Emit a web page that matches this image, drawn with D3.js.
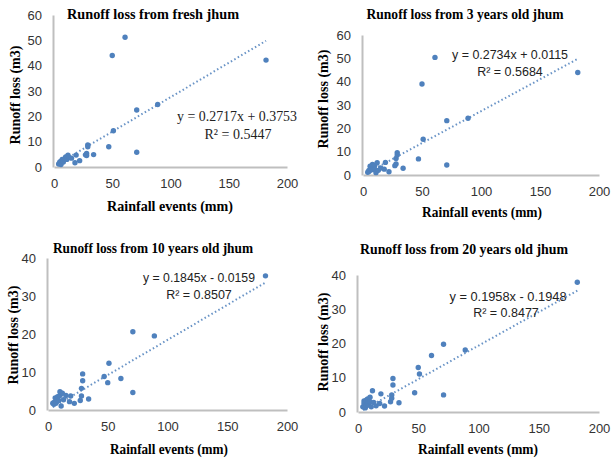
<!DOCTYPE html>
<html>
<head>
<meta charset="utf-8">
<script src="https://cdn.jsdelivr.net/npm/d3@7"></script>
<style>
  html, body { margin: 0; padding: 0; background: #fff; }
  svg { display: block; }
</style>
</head>
<body>
<svg id="chart" width="611" height="459"></svg>
<script>
// Rainfall events (mm), shared by all four plots
const rainfall = [4, 5, 5, 6, 6, 7, 7, 8, 8, 9, 10, 10, 11, 12, 13, 15, 18, 19, 22, 27, 28, 28, 29, 29, 34, 47, 50, 51, 61, 71, 71, 89, 182];

// Runoff loss (m3) for each event, per jhum age
const runoffFresh = [1.2, 1.5, 2.0, 2.2, 1.0, 3.0, 2.5, 2.8, 2.0, 3.2, 4.0, 3.5, 3.0, 4.7, 3.8, 3.5, 1.7, 4.7, 2.5, 4.8, 5.3, 4.5, 8.7, 8.0, 4.9, 8.0, 44.0, 14.3, 51.2, 22.5, 5.8, 24.7, 42.2];
const runoff3yr   = [1.2, 1.5, 2.0, 3.8, 2.0, 3.3, 2.5, 4.5, 2.3, 3.5, 4.2, 2.5, 1.0, 5.3, 2.0, 3.0, 2.5, 5.4, 1.4, 4.0, 7.1, 4.7, 9.6, 8.6, 2.9, 6.9, 39.0, 15.3, 50.4, 23.3, 4.3, 24.3, 43.9];
const runoff10yr  = [1.8, 1.5, 2.0, 3.2, 1.8, 2.0, 2.9, 3.5, 2.9, 2.5, 3.8, 4.8, 1.05, 4.4, 2.7, 3.8, 2.2, 3.7, 1.75, 2.5, 5.7, 3.7, 9.5, 7.7, 2.9, 8.8, 7.2, 12.3, 8.3, 20.6, 4.6, 19.5, 35.3];
const runoff20yr  = [1.5, 3.2, 2.5, 2.8, 1.2, 3.5, 2.0, 3.8, 2.3, 2.0, 4.3, 3.0, 1.5, 6.2, 2.8, 1.8, 2.5, 5.3, 1.75, 3.0, 5.0, 4.0, 9.8, 7.9, 2.7, 5.6, 13.0, 11.1, 16.5, 19.8, 5.0, 18.1, 37.9];

// Plot titles
const titles = [
  "Runoff  loss from  fresh jhum",
  "Runoff  loss from  3 years old  jhum",
  "Runoff  loss from  10 years old  jhum",
  "Runoff  loss from  20 years old  jhum"
];

// Linear trend coefficients and their printed labels
const slopes     = [0.2717, 0.2734, 0.1845, 0.1958];
const intercepts = [0.3753, 0.0115, -0.0159, -0.1948];
const eqLabels   = ["y = 0.2717x   + 0.3753", "y = 0.2734x + 0.0115", "y = 0.1845x - 0.0159", "y = 0.1958x - 0.1948"];
const r2Labels   = ["R² = 0.5447", "R² = 0.5684", "R² = 0.8507", "R² = 0.8477"];

// Axis ticks
const xTicks = [0, 50, 100, 150, 200];
const yTicksList = [[0, 10, 20, 30, 40, 50, 60], [0, 10, 20, 30, 40, 50, 60], [0, 10, 20, 30, 40], [0, 10, 20, 30, 40]];

const xLabel = "Rainfall  events  (mm)";
const yLabel = "Runoff  loss  (m3)";

const series = [runoffFresh, runoff3yr, runoff10yr, runoff20yr];

// Layout of each plot panel
const layout = [
  { x0: 54, x1: 287, y0: 167, y1: 15, title: [153, 19, 172], xl: [170, 211, 126], yl: [15, 95],
    eq: [237, 121, 120], r2: [238, 139], eqFont: "serif" },
  { x0: 363, x1: 599, y0: 175, y1: 35, title: [465, 19, 197], xl: [482, 217, 120], yl: [323, 99],
    eq: [510, 59, 116], r2: [510, 76], eqFont: "sans" },
  { x0: 48, x1: 287, y0: 410, y1: 258, title: [153, 253, 200], xl: [169, 454, 118], yl: [13, 335],
    eq: [199, 282, 112], r2: [199, 299], eqFont: "sans" },
  { x0: 358, x1: 599, y0: 412, y1: 275, title: [464, 254, 208], xl: [478, 454, 120], yl: [323, 342],
    eq: [508, 301, 117], r2: [506, 317], eqFont: "sans" }
];

const blue = "#4f81bd";
const axisGray = "#bfbfbf";
const serif = "'Liberation Serif', 'Times New Roman', serif";
const sans = "'Liberation Sans', Arial, sans-serif";

const svg = d3.select("#chart");

series.forEach((vals, i) => {
  const L = layout[i];
  const yTicks = yTicksList[i];
  const x = d3.scaleLinear().domain([0, 200]).range([L.x0, L.x1]);
  const y = d3.scaleLinear().domain([0, d3.max(yTicks)]).range([L.y0, L.y1]);
  const g = svg.append("g");

  // Axes: plain gray lines with labels, no tick marks
  const xAxis = d3.axisBottom(x).tickValues(xTicks).tickSize(0).tickPadding(12);
  const yAxis = d3.axisLeft(y).tickValues(yTicks).tickSize(0).tickPadding(11);
  const gx = g.append("g").attr("transform", `translate(0,${L.y0})`).call(xAxis);
  const gy = g.append("g").attr("transform", `translate(${L.x0 - 1},0)`).call(yAxis);
  [gx, gy].forEach(a => {
    a.select(".domain").attr("stroke", axisGray).attr("stroke-width", 2);
    a.selectAll("text").attr("font-family", sans).attr("font-size", 13).attr("fill", "#333");
  });

  // Trend line over the range of the data
  const ext = d3.extent(rainfall);
  g.append("line")
    .attr("x1", x(ext[0])).attr("y1", y(slopes[i] * ext[0] + intercepts[i]))
    .attr("x2", x(ext[1])).attr("y2", y(slopes[i] * ext[1] + intercepts[i]))
    .attr("stroke", blue).attr("stroke-width", 2)
    .attr("stroke-dasharray", "1.5,2.5").attr("opacity", 0.85);

  // Data points
  g.append("g").selectAll("circle")
    .data(rainfall.map((r, k) => [r, vals[k]]))
    .join("circle")
    .attr("cx", d => x(d[0]))
    .attr("cy", d => y(d[1]))
    .attr("r", 2.7)
    .attr("fill", blue);

  // Title
  g.append("text")
    .attr("x", L.title[0]).attr("y", L.title[1])
    .attr("text-anchor", "middle")
    .attr("textLength", L.title[2]).attr("lengthAdjust", "spacingAndGlyphs")
    .attr("font-family", serif).attr("font-weight", "bold").attr("font-size", 14)
    .text(titles[i]);

  // Axis titles
  g.append("text")
    .attr("x", L.xl[0]).attr("y", L.xl[1])
    .attr("text-anchor", "middle")
    .attr("textLength", L.xl[2]).attr("lengthAdjust", "spacingAndGlyphs")
    .attr("font-family", serif).attr("font-weight", "bold").attr("font-size", 14)
    .text(xLabel);
  g.append("text")
    .attr("transform", `translate(${L.yl[0]},${L.yl[1]}) rotate(-90)`)
    .attr("text-anchor", "middle").attr("dominant-baseline", "central")
    .attr("font-family", serif).attr("font-weight", "bold").attr("font-size", 14)
    .text(yLabel);

  // Equation and R²
  const eqFam = L.eqFont === "serif" ? serif : sans;
  const eqSize = L.eqFont === "serif" ? 14 : 12.5;
  g.append("text")
    .attr("x", L.eq[0]).attr("y", L.eq[1])
    .attr("text-anchor", "middle")
    .attr("textLength", L.eq[2]).attr("lengthAdjust", "spacingAndGlyphs")
    .attr("font-family", eqFam).attr("font-size", eqSize).attr("fill", "#222")
    .text(eqLabels[i]);
  g.append("text")
    .attr("x", L.r2[0]).attr("y", L.r2[1])
    .attr("text-anchor", "middle")
    .attr("font-family", eqFam).attr("font-size", eqSize).attr("fill", "#222")
    .text(r2Labels[i]);
});
</script>
</body>
</html>
